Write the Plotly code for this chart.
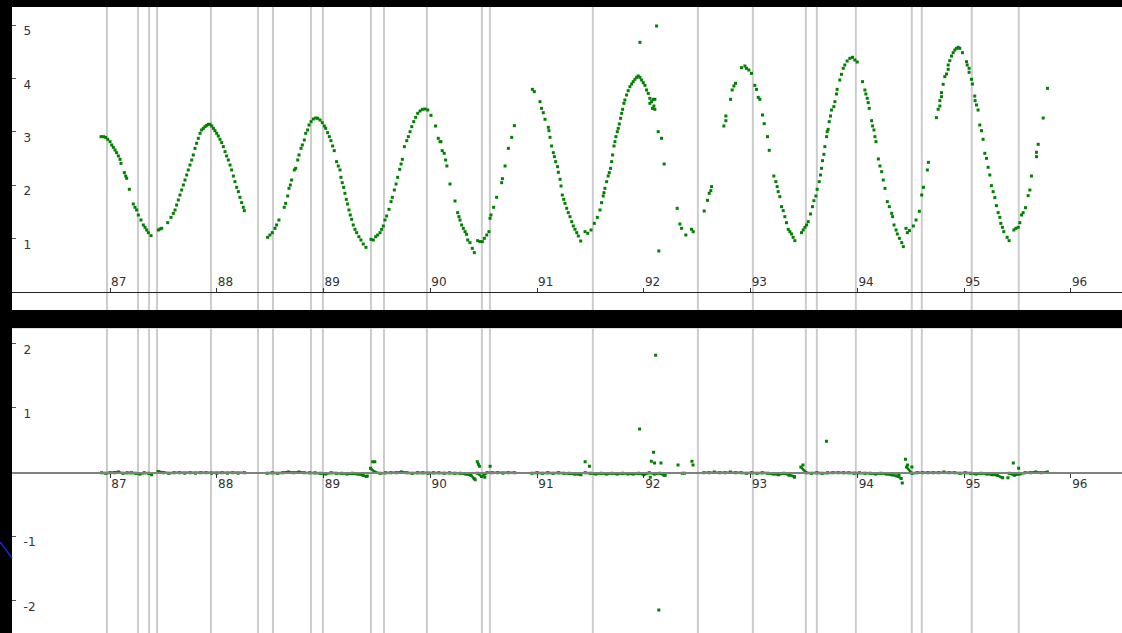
import plotly.graph_objects as go

# ---------------- data ----------------
top_x = [86.916, 86.938, 86.959, 86.978, 87.000, 87.016, 87.031, 87.047, 87.062, 87.078, 87.094, 87.103,
         87.134, 87.147, 87.156, 87.181, 87.218, 87.234, 87.250, 87.265, 87.290, 87.312, 87.328, 87.343,
         87.359, 87.384,
         87.453, 87.468, 87.484, 87.540, 87.571, 87.593, 87.609, 87.624, 87.640, 87.655, 87.671, 87.687,
         87.702, 87.718, 87.733, 87.749, 87.765, 87.780, 87.796, 87.811, 87.827, 87.843, 87.858, 87.874,
         87.890, 87.905, 87.921, 87.936, 87.952, 87.968, 87.983, 87.999, 88.014, 88.030, 88.046, 88.061,
         88.077, 88.092, 88.108, 88.124, 88.139, 88.155, 88.170, 88.186, 88.202, 88.217, 88.233, 88.248, 88.258,
         88.476, 88.498, 88.520, 88.545, 88.560, 88.582, 88.632, 88.645, 88.664, 88.676, 88.689, 88.701,
         88.726, 88.739, 88.758, 88.770, 88.789, 88.801, 88.820, 88.833, 88.851, 88.864, 88.883, 88.904,
         88.926, 88.945, 88.967, 88.988, 89.007, 89.020, 89.038, 89.054, 89.069, 89.085, 89.100, 89.122,
         89.138, 89.154, 89.163, 89.175, 89.188, 89.200, 89.213, 89.225, 89.238, 89.250, 89.263, 89.278,
         89.294, 89.310, 89.331, 89.350, 89.372, 89.397,
         89.444, 89.466, 89.488, 89.507, 89.529, 89.544, 89.560, 89.575, 89.591, 89.613, 89.632, 89.644,
         89.663, 89.679, 89.694, 89.713, 89.726, 89.738, 89.757, 89.779, 89.794, 89.810, 89.826, 89.844,
         89.863, 89.882, 89.904, 89.926, 89.951, 89.976, 90.006, 90.049, 90.074, 90.091, 90.099, 90.111,
         90.130, 90.143, 90.155, 90.184, 90.231, 90.256, 90.268, 90.278, 90.293, 90.309, 90.325, 90.340,
         90.350, 90.371, 90.393, 90.412,
         90.443, 90.465, 90.487, 90.506, 90.528, 90.549, 90.559, 90.568, 90.593, 90.621, 90.668, 90.675,
         90.700, 90.731, 90.762, 90.787,
         90.956, 90.974, 91.027, 91.042, 91.058, 91.074, 91.105, 91.111, 91.121, 91.136, 91.152, 91.162,
         91.174, 91.192, 91.199, 91.215, 91.224, 91.236, 91.249, 91.261, 91.277, 91.292, 91.308, 91.324,
         91.339, 91.355, 91.371, 91.386, 91.408,
         91.449, 91.474, 91.505, 91.536, 91.564, 91.589, 91.604, 91.619, 91.626, 91.635, 91.651, 91.666,
         91.676, 91.688, 91.698, 91.707, 91.720, 91.729, 91.738, 91.751, 91.760, 91.770, 91.782, 91.792,
         91.801, 91.813, 91.822, 91.838, 91.853, 91.869, 91.885, 91.900, 91.916, 91.932, 91.947, 91.963,
         91.979, 91.994, 92.010, 92.025, 92.041, 92.056, 92.072, 92.087, 92.103, 92.094, 92.056, 92.081,
         92.103, 91.963, 92.119, 92.134, 92.165, 92.190, 92.140,
         92.312, 92.337, 92.353, 92.393, 92.446, 92.462,
         92.565, 92.596, 92.612, 92.627, 92.634, 92.749, 92.768, 92.768, 92.812, 92.827, 92.843, 92.858,
         92.914, 92.946, 92.961, 92.983, 93.008, 93.039, 93.055, 93.071, 93.086, 93.111, 93.127, 93.158,
         93.174, 93.217, 93.236, 93.248, 93.258, 93.273, 93.289, 93.305, 93.320, 93.336, 93.352, 93.367,
         93.383, 93.398, 93.414,
         93.476, 93.492, 93.508, 93.523, 93.539, 93.561, 93.579, 93.592, 93.611, 93.623, 93.642, 93.654,
         93.664, 93.673, 93.686, 93.695, 93.711, 93.717, 93.726, 93.736, 93.748, 93.757, 93.779, 93.789,
         93.804, 93.810, 93.835, 93.851, 93.867, 93.882, 93.904, 93.929, 93.954, 93.976, 93.998,
         94.048, 94.070, 94.079, 94.092, 94.101, 94.111, 94.133, 94.142, 94.155, 94.164, 94.174, 94.196,
         94.211, 94.227, 94.242, 94.258, 94.280, 94.299, 94.321, 94.330, 94.343, 94.362, 94.374, 94.393,
         94.415, 94.430,
         94.455, 94.468, 94.487, 94.524, 94.549, 94.580, 94.602, 94.618, 94.655, 94.665,
         94.740, 94.756, 94.772, 94.772, 94.787, 94.787, 94.803, 94.818, 94.834, 94.850, 94.850, 94.865,
         94.881, 94.897, 94.912, 94.928, 94.944, 94.959, 94.984, 95.022, 95.028, 95.046, 95.046, 95.068,
         95.077, 95.099, 95.102, 95.115, 95.130, 95.146, 95.162, 95.177, 95.193, 95.209, 95.224, 95.240,
         95.255, 95.271, 95.287, 95.302, 95.318, 95.334, 95.343, 95.358, 95.371, 95.402, 95.421,
         95.465, 95.484, 95.506, 95.521, 95.537, 95.552, 95.574, 95.599, 95.615, 95.630, 95.677, 95.677,
         95.693, 95.740, 95.780]

top_y = [2.909, 2.909, 2.896, 2.859, 2.815, 2.753, 2.709, 2.659, 2.609, 2.547, 2.484, 2.409,
         2.235, 2.172, 2.129, 1.923, 1.648, 1.586, 1.536, 1.442, 1.348, 1.255, 1.211, 1.161,
         1.111, 1.055,
         1.161, 1.180, 1.192, 1.298, 1.398, 1.473, 1.536, 1.629, 1.723, 1.816, 1.910, 2.004,
         2.097, 2.191, 2.285, 2.378, 2.472, 2.566, 2.690, 2.784, 2.878, 2.971, 3.034, 3.065,
         3.096, 3.121, 3.140, 3.140, 3.109, 3.065, 3.021, 2.971, 2.921, 2.859, 2.797, 2.722,
         2.628, 2.547, 2.472, 2.378, 2.285, 2.172, 2.066, 1.960, 1.879, 1.773, 1.673, 1.586, 1.523,
         1.024, 1.067, 1.111, 1.192, 1.255, 1.348, 1.586, 1.660, 1.798, 1.941, 2.004, 2.097,
         2.285, 2.316, 2.472, 2.566, 2.690, 2.753, 2.846, 2.971, 3.034, 3.127, 3.190, 3.240,
         3.258, 3.252, 3.221, 3.171, 3.109, 3.065, 2.984, 2.909, 2.834, 2.734, 2.647, 2.441,
         2.360, 2.285, 2.147, 2.047, 1.960, 1.848, 1.735, 1.648, 1.536, 1.442, 1.361, 1.255,
         1.174, 1.111, 1.036, 0.974, 0.899, 0.836,
         0.986, 0.974, 1.036, 1.067, 1.111, 1.174, 1.236, 1.348, 1.423, 1.548, 1.692, 1.773,
         1.910, 2.022, 2.147, 2.297, 2.397, 2.484, 2.722, 2.834, 2.909, 3.002, 3.096, 3.190,
         3.271, 3.346, 3.390, 3.421, 3.427, 3.408, 3.308, 3.109, 2.878, 2.815, 2.815, 2.647,
         2.597, 2.472, 2.360, 2.022, 1.704, 1.486, 1.411, 1.348, 1.255, 1.192, 1.130, 1.080,
         0.974, 0.924, 0.818, 0.737,
         0.961, 0.943, 0.943, 1.005, 1.067, 1.130, 1.380, 1.442, 1.586, 1.773, 2.047, 2.122,
         2.360, 2.690, 2.896, 3.115,
         3.795, 3.752, 3.564, 3.439, 3.358, 3.234, 3.084, 3.021, 2.896, 2.734, 2.609, 2.534,
         2.441, 2.347, 2.241, 2.110, 1.985, 1.816, 1.735, 1.660, 1.567, 1.486, 1.411, 1.317,
         1.236, 1.174, 1.111, 1.049, 0.955,
         1.130, 1.099, 1.161, 1.286, 1.398, 1.536, 1.673, 1.798, 1.860, 1.941, 2.066, 2.172,
         2.235, 2.316, 2.441, 2.566, 2.734, 2.815, 2.909, 3.002, 3.065, 3.146, 3.252, 3.346,
         3.421, 3.533, 3.596, 3.689, 3.770, 3.845, 3.895, 3.939, 3.983, 4.020, 4.045, 4.020,
         3.970, 3.920, 3.870, 3.783, 3.720, 3.627, 3.564, 3.608, 3.608, 3.483, 3.533, 3.439,
         3.421, 4.675, 4.981, 3.002, 2.878, 2.397, 0.768,
         1.567, 1.273, 1.192, 1.067, 1.174, 1.130,
         1.517, 1.717, 1.848, 1.898, 1.973, 3.109, 3.208, 3.296, 3.608, 3.783, 3.858, 3.908,
         4.201, 4.232, 4.189, 4.157, 4.095, 3.870, 3.795, 3.645, 3.608, 3.315, 3.152, 2.909,
         2.653, 2.172, 2.066, 1.973, 1.879, 1.785, 1.598, 1.523, 1.411, 1.298, 1.174, 1.130,
         1.086, 1.024, 0.961,
         1.111, 1.161, 1.211, 1.255, 1.317, 1.461, 1.598, 1.710, 1.798, 1.923, 2.066, 2.191,
         2.316, 2.459, 2.578, 2.722, 2.909, 3.002, 3.046, 3.190, 3.296, 3.408, 3.471, 3.564,
         3.708, 3.795, 3.970, 4.076, 4.189, 4.251, 4.326, 4.376, 4.395, 4.345, 4.307,
         3.939, 3.783, 3.708, 3.627, 3.546, 3.439, 3.208, 3.109, 3.034, 2.909, 2.815, 2.491,
         2.360, 2.253, 2.097, 1.941, 1.692, 1.598, 1.473, 1.411, 1.255, 1.161, 1.086, 1.005,
         0.924, 0.849,
         1.192, 1.111, 1.149, 1.236, 1.348, 1.511, 1.816, 1.960, 2.285, 2.428,
         3.265, 3.421, 3.483, 3.583, 3.658, 3.733, 3.889, 4.033, 4.082, 4.170, 4.251, 4.332,
         4.419, 4.482, 4.532, 4.563, 4.582, 4.563, 4.482, 4.313, 4.251, 4.189, 4.114, 3.983,
         3.895, 3.670, 3.583, 3.502, 3.408, 3.127, 3.021, 2.859, 2.597, 2.503, 2.335, 2.191,
         1.991, 1.879, 1.767, 1.617, 1.486, 1.398, 1.286, 1.211, 1.130, 1.024, 0.961,
         1.161, 1.192, 1.211, 1.298, 1.442, 1.486, 1.579, 1.804, 1.910, 2.172, 2.534, 2.616,
         2.765, 3.258, 3.814]

# residuals (baseline runs, None separates runs)
res_x = [86.92, 86.96, 87.00, 87.04, 87.08, 87.12, 87.16, 87.20, 87.24, 87.28, 87.32, 87.36, 87.39, None,
         87.45, 87.50, 87.55, 87.60, 87.65, 87.70, 87.75, 87.80, 87.85, 87.90, 87.95, 88.00, 88.05, 88.10,
         88.15, 88.20, 88.26, None,
         88.47, 88.52, 88.57, 88.62, 88.67, 88.72, 88.77, 88.82, 88.87, 88.92, 88.97, 89.02, 89.07, 89.12,
         89.17, 89.22, 89.27, 89.32, 89.37, 89.40, None,
         89.44, 89.48, 89.53, 89.58, 89.63, 89.68, 89.73, 89.78, 89.83, 89.88, 89.93, 89.98, 90.03, 90.08,
         90.13, 90.18, 90.23, 90.28, 90.33, 90.38, 90.41, None,
         90.44, 90.48, 90.53, 90.58, 90.63, 90.68, 90.73, 90.79, None,
         90.95, 91.00, 91.05, 91.10, 91.15, 91.20, 91.25, 91.30, 91.35, 91.41, None,
         91.45, 91.50, 91.55, 91.60, 91.65, 91.70, 91.75, 91.80, 91.85, 91.90, 91.95, 92.00, 92.05, 92.10,
         92.15, 92.19, None,
         92.56, 92.61, 92.66, 92.71, 92.76, 92.81, 92.86, 92.91, 92.96, 93.01, 93.06, 93.11, 93.16, 93.21,
         93.26, 93.31, 93.36, 93.41, None,
         93.47, 93.52, 93.57, 93.62, 93.67, 93.72, 93.77, 93.82, 93.87, 93.92, 93.97, 94.02, 94.07, 94.12,
         94.17, 94.22, 94.27, 94.32, 94.37, 94.41, None,
         94.46, 94.51, 94.56, 94.61, 94.66, 94.71, 94.76, 94.81, 94.86, 94.91, 94.96, 95.01, 95.06, 95.11,
         95.16, 95.21, 95.26, 95.31, 95.36, None,
         95.42, 95.47, 95.52, 95.57, 95.62, 95.67, 95.72, 95.78]
res_y = [-0.01, -0.02, -0.01, -0.01, 0.0, -0.02, -0.01, -0.01, -0.02, -0.03, -0.01, -0.02, -0.04, None,
         0.01, -0.01, -0.02, -0.01, -0.01, -0.02, -0.01, -0.02, -0.01, -0.01, -0.02, -0.02, -0.01, -0.02,
         -0.01, -0.02, -0.01, None,
         -0.02, -0.01, -0.02, -0.01, 0.0, -0.01, 0.0, -0.01, -0.01, -0.01, -0.02, -0.03, -0.01, -0.02,
         -0.02, -0.03, -0.02, -0.03, -0.05, -0.07, None,
         0.06, 0.0, -0.02, -0.01, -0.01, -0.01, 0.0, -0.01, -0.02, -0.01, -0.01, -0.02, -0.01, -0.01,
         -0.02, -0.01, -0.02, -0.02, -0.03, -0.05, -0.10, None,
         -0.02, -0.07, -0.01, -0.01, -0.01, -0.02, -0.01, -0.01, None,
         -0.02, -0.01, -0.02, -0.01, -0.02, -0.01, -0.02, -0.02, -0.03, -0.04, None,
         -0.01, -0.02, -0.03, -0.02, -0.03, -0.02, -0.03, -0.02, -0.03, -0.03, -0.02, -0.04, -0.01, -0.03,
         -0.02, -0.05, None,
         -0.01, -0.01, 0.0, -0.01, -0.01, 0.0, -0.01, -0.01, -0.02, -0.01, -0.02, -0.01, -0.02, -0.03,
         -0.04, -0.02, -0.05, -0.07, None,
         0.08, -0.01, -0.02, -0.01, -0.02, -0.01, -0.01, -0.01, -0.01, -0.01, -0.02, -0.01, -0.02, -0.02,
         -0.03, -0.02, -0.03, -0.04, -0.06, -0.10, None,
         0.08, -0.02, -0.01, -0.01, -0.01, -0.01, -0.01, 0.0, -0.01, -0.01, -0.02, -0.01, -0.02, -0.03,
         -0.02, -0.03, -0.04, -0.05, -0.09, None,
         -0.02, -0.05, -0.03, -0.01, -0.01, 0.0, -0.01, 0.0]

# residual outliers
out_x = [89.46, 89.48, 89.41, 90.44, 90.46, 90.45, 90.56, 90.42, 90.51, 91.45, 91.49, 91.96, 92.11, 92.14,
         92.09, 92.07, 92.10, 92.16, 92.06, 92.20, 92.32, 92.36, 92.45, 92.46, 92.38, 93.71, 93.49, 93.41,
         94.45, 94.47, 94.51, 94.42, 94.39, 95.46, 95.51, 95.41]
out_y = [0.16, 0.16, -0.06, 0.16, 0.09, 0.12, 0.09, -0.12, -0.08, 0.16, 0.09, 0.67, 1.82, -2.15,
         0.31, 0.17, 0.14, 0.14, -0.08, -0.05, 0.11, -0.02, 0.17, 0.11, -0.02, 0.48, 0.11, -0.08,
         0.20, 0.11, 0.08, -0.17, -0.05, 0.14, 0.06, -0.09]

# vertical marker lines (years)
vlines = [86.972, 87.262, 87.365, 87.440, 87.946, 88.386, 88.526, 88.882, 88.994, 89.444, 89.566,
          89.968, 90.483, 90.558, 91.522, 92.506, 93.021, 93.517, 93.620, 93.985, 94.509, 94.603,
          95.071, 95.511]

x_ticks = [87, 88, 89, 90, 91, 92, 93, 94, 95, 96]
top_yticks = [1, 2, 3, 4, 5]
bot_yticks = [-2, -1, 1, 2]

# ---------------- layout geometry ----------------
W, H = 1122, 633
M_L, M_R, M_T, M_B = 12, 0, 7, 0
x_range = [86.082, 96.478]
top_range = [-0.337, 5.337]
bot_range = [-2.508, 2.243]
top_dom = [0.516, 1.0]
bot_dom = [0.0, 0.487]

def zero_pos(dom, rng):
    return dom[0] + (0 - rng[0]) / (rng[1] - rng[0]) * (dom[1] - dom[0])

GREEN = "#008000"
FONT = dict(family="DejaVu Sans", size=12, color="#333333")

fig = go.Figure()
fig.add_trace(go.Scatter(x=top_x, y=top_y, mode="markers", xaxis="x", yaxis="y",
                         marker=dict(symbol="square", size=3, color=GREEN, line=dict(width=0)),
                         showlegend=False, hoverinfo="skip"))
fig.add_trace(go.Scatter(x=res_x, y=res_y, mode="lines+markers", xaxis="x2", yaxis="y2",
                         line=dict(color=GREEN, width=2.5),
                         marker=dict(symbol="square", size=3, color=GREEN, line=dict(width=0)),
                         connectgaps=False, showlegend=False, hoverinfo="skip"))
fig.add_trace(go.Scatter(x=out_x, y=out_y, mode="markers", xaxis="x2", yaxis="y2",
                         marker=dict(symbol="square", size=3, color=GREEN, line=dict(width=0)),
                         showlegend=False, hoverinfo="skip"))

for v in vlines:
    fig.add_shape(type="line", xref="x", yref="y domain", x0=v, x1=v, y0=0, y1=1,
                  line=dict(color="#cccccc", width=2), layer="below")
    fig.add_shape(type="line", xref="x2", yref="y2 domain", x0=v, x1=v, y0=0, y1=1,
                  line=dict(color="#cccccc", width=2), layer="below")

# small blue stroke at left edge of lower panel
fig.add_shape(type="line", xref="paper", yref="paper", x0=-0.0108, y0=0.1454, x1=0.0, y1=0.1198,
              line=dict(color="#2020d0", width=1.5))

common_x = dict(range=x_range, tickvals=x_ticks, ticktext=[str(t) for t in x_ticks],
                showgrid=False, zeroline=False, showline=True, ticklen=4, tickcolor="#333333",
                tickfont=FONT, anchor="free", fixedrange=True)

fig.update_layout(
    width=W, height=H,
    margin=dict(l=M_L, r=M_R, t=M_T, b=M_B, pad=0),
    paper_bgcolor="black", plot_bgcolor="white",
    showlegend=False,
    xaxis=dict(**common_x, domain=[0, 1], position=zero_pos(top_dom, top_range),
               ticks="inside", ticklabelposition="inside right", linecolor="#222222", linewidth=1),
    xaxis2=dict(**common_x, domain=[0, 1], matches="x", position=zero_pos(bot_dom, bot_range),
                ticks="outside", ticklabelposition="outside right", linecolor="#808080", linewidth=1.5),
    yaxis=dict(domain=top_dom, range=top_range, tickvals=top_yticks,
               ticktext=[str(t) for t in top_yticks], showgrid=False, zeroline=False, showline=False,
               ticks="inside", ticklen=4, tickcolor="#555555", ticklabelposition="inside",
               ticklabelshift=6, ticklabelstandoff=7, tickfont=FONT, fixedrange=True),
    yaxis2=dict(domain=bot_dom, range=bot_range, tickvals=bot_yticks,
                ticktext=[str(t) for t in bot_yticks], showgrid=False, zeroline=False, showline=False,
                ticks="inside", ticklen=4, tickcolor="#555555", ticklabelposition="inside",
                ticklabelshift=6, ticklabelstandoff=7, tickfont=FONT, fixedrange=True),
)

fig.write_html("out.html", config={"displayModeBar": False, "staticPlot": True},
               post_script="document.body.style.margin='0';document.body.style.padding='0';"
                           "document.body.style.overflow='hidden';")
